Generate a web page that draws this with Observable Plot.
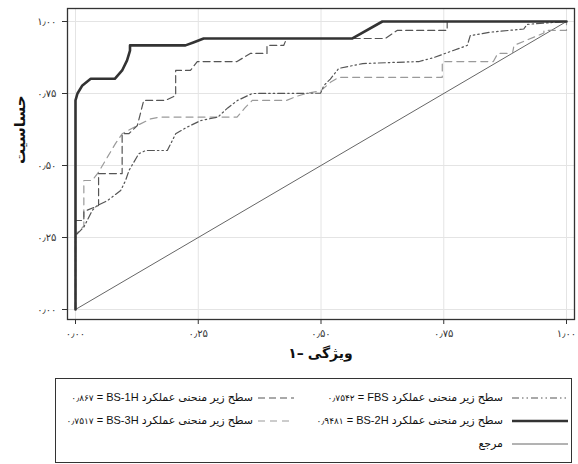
<!DOCTYPE html>
<html><head><meta charset="utf-8">
<script src="https://cdn.jsdelivr.net/npm/d3@7"></script>
<script src="https://cdn.jsdelivr.net/npm/@observablehq/plot@0.6"></script>
<style>
body{margin:0;background:#fff;font-family:'Liberation Sans','DejaVu Sans',sans-serif;}
#chart svg{display:block;}
#xtitle{box-sizing:border-box;width:578px;height:20px;line-height:20px;padding:0 4px 0 67px;display:flex;justify-content:center;gap:4px;direction:ltr;font-family:'DejaVu Sans',sans-serif;font-weight:bold;font-size:14px;color:#111;}
#legend{box-sizing:border-box;margin:15px 0 0 55px;width:517px;height:85px;border:1px solid #333;padding-top:7px;display:grid;grid-template-columns:241px 274px;grid-auto-rows:23px;font-size:11px;color:#111;}
.cell{display:flex;justify-content:flex-end;align-items:center;direction:ltr;padding-right:3px;}
.cell span{white-space:nowrap;}
.num{font-size:9px;}
</style>
</head><body>
<div id="chart"></div>
<div id="xtitle"></div>
<div id="legend"></div>
<script>
// tick values and labels
const tickValues = [0, 0.25, 0.5, 0.75, 1];
const tickLabels = ["۰٫۰۰", "۰٫۲۵", "۰٫۵۰", "۰٫۷۵", "۱٫۰۰"];
const xTitleParts = ["۱–", "ویژگی"];
const yTitle = "حساسیت";

// ROC curves: [1 - specificity, sensitivity]
const refLine = [[0, 0], [1, 1]];
const bs2h = [[0,0],[0,0.726],[0.004,0.75],[0.014,0.778],[0.031,0.801],[0.080,0.801],[0.095,0.83],[0.105,0.865],[0.111,0.899],[0.111,0.917],[0.224,0.917],[0.24,0.927],[0.261,0.941],[0.564,0.941],[0.625,1],[1,1]];
const bs1h = [[0,0],[0,0.309],[0.017,0.309],[0.017,0.34],[0.047,0.361],[0.047,0.472],[0.095,0.472],[0.095,0.611],[0.109,0.611],[0.126,0.639],[0.139,0.726],[0.183,0.726],[0.204,0.743],[0.204,0.83],[0.234,0.83],[0.248,0.861],[0.329,0.861],[0.356,0.889],[0.39,0.889],[0.39,0.917],[0.424,0.917],[0.43,0.941],[0.631,0.941],[0.655,0.969],[0.757,0.969],[0.757,1],[1,1]];
const fbs = [[0,0],[0,0.257],[0.017,0.286],[0.034,0.344],[0.044,0.361],[0.065,0.378],[0.092,0.413],[0.102,0.448],[0.109,0.483],[0.129,0.541],[0.143,0.552],[0.187,0.552],[0.204,0.61],[0.227,0.633],[0.255,0.656],[0.29,0.668],[0.31,0.70],[0.33,0.726],[0.36,0.75],[0.499,0.751],[0.506,0.778],[0.519,0.80],[0.536,0.837],[0.585,0.854],[0.70,0.861],[0.73,0.875],[0.798,0.917],[0.804,0.951],[0.845,0.963],[0.913,0.974],[0.92,0.99],[1,1]];
const bs3h = [[0,0],[0,0.26],[0.017,0.29],[0.017,0.448],[0.034,0.448],[0.047,0.477],[0.065,0.529],[0.081,0.575],[0.095,0.61],[0.126,0.639],[0.153,0.662],[0.173,0.668],[0.329,0.668],[0.345,0.70],[0.36,0.726],[0.43,0.726],[0.45,0.74],[0.47,0.75],[0.50,0.76],[0.52,0.79],[0.536,0.806],[0.747,0.806],[0.747,0.861],[0.851,0.861],[0.86,0.889],[0.89,0.889],[0.893,0.917],[0.954,0.96],[0.954,0.969],[1,0.969],[1,1]];

// legend entries
const legendNames = ["BS-1H", "FBS", "BS-3H", "BS-2H", "", "ref"];
const legendAuc = ["۰٫۸۶۷", "۰٫۷۵۴۲", "۰٫۷۵۱۷", "۰٫۹۴۸۱", "", ""];
const legendPhrase = "سطح زیر منحنی عملکرد";
const refLabel = "مرجع";

const styles = {
  "ref":   {stroke:"#666", strokeWidth:1, dash:null},
  "BS-3H": {stroke:"#9a9a9a", strokeWidth:1.2, dash:"7,5"},
  "FBS":   {stroke:"#555", strokeWidth:1.2, dash:"7,3,1.5,3,1.5,3"},
  "BS-1H": {stroke:"#555", strokeWidth:1.2, dash:"7,4"},
  "BS-2H": {stroke:"#333", strokeWidth:2.6, dash:null}
};
const curves = [["ref", refLine], ["BS-3H", bs3h], ["FBS", fbs], ["BS-1H", bs1h], ["BS-2H", bs2h]];

const fmt = v => tickLabels[tickValues.indexOf(v)];

const plot = Plot.plot({
  width: 578, height: 343,
  marginLeft: 67, marginRight: 4, marginTop: 8, marginBottom: 24,
  style: {fontFamily: "'Liberation Sans','DejaVu Sans',sans-serif", fontSize: "10px", color: "#333", background: "#fff"},
  x: {domain: [0, 1], insetLeft: 8, insetRight: 8},
  y: {domain: [0, 1], insetTop: 13, insetBottom: 10},
  marks: [
    Plot.gridX(tickValues, {stroke: "#e4e4e4", strokeOpacity: 1}),
    Plot.gridY(tickValues, {stroke: "#e4e4e4", strokeOpacity: 1}),
    ...curves.map(([k, d]) => Plot.line(d, {x: d => d[0], y: d => d[1], stroke: styles[k].stroke, strokeWidth: styles[k].strokeWidth, strokeDasharray: styles[k].dash, curve: "linear"})),
    Plot.frame({stroke: "#333", strokeWidth: 1.3}),
    Plot.axisX(tickValues, {tickFormat: fmt, tickSize: 5, tickPadding: 5, label: null, stroke: "#333"}),
    Plot.axisY(tickValues, {tickFormat: fmt, tickSize: 5, tickPadding: 6, label: null, stroke: "#333"}),
    Plot.text([yTitle], {frameAnchor: "left", rotate: -90, dx: -47, fontSize: 15, fontWeight: "bold", fill: "#111", fontFamily: "'DejaVu Sans',sans-serif"})
  ]
});
document.getElementById("chart").appendChild(plot);
const xt = document.getElementById("xtitle");
xTitleParts.forEach(t => { const s = document.createElement("span"); s.textContent = t; xt.appendChild(s); });

// legend
const legend = document.getElementById("legend");
legendNames.forEach((name, i) => {
  const cell = document.createElement("div");
  cell.className = "cell";
  const col = i % 2;
  if (name) {
    const span = document.createElement("span");
    if (name === "ref") {
      span.textContent = refLabel;
    } else {
      const num = document.createElement("span");
      num.className = "num";
      num.textContent = legendAuc[i];
      span.appendChild(num);
      span.appendChild(document.createTextNode(" = " + name + " " + legendPhrase));
    }
    cell.appendChild(span);
    const w = col === 0 ? 36 : 56;
    const s = styles[name];
    const svg = d3.create("svg").attr("width", w).attr("height", 8)
      .style("margin-left", col === 0 ? "5px" : "9px");
    svg.append("line").attr("x1", 0).attr("x2", w).attr("y1", 4).attr("y2", 4)
      .attr("stroke", s.stroke).attr("stroke-width", s.strokeWidth)
      .attr("stroke-dasharray", s.dash);
    cell.appendChild(svg.node());
  }
  legend.appendChild(cell);
});
</script>
</body></html>
